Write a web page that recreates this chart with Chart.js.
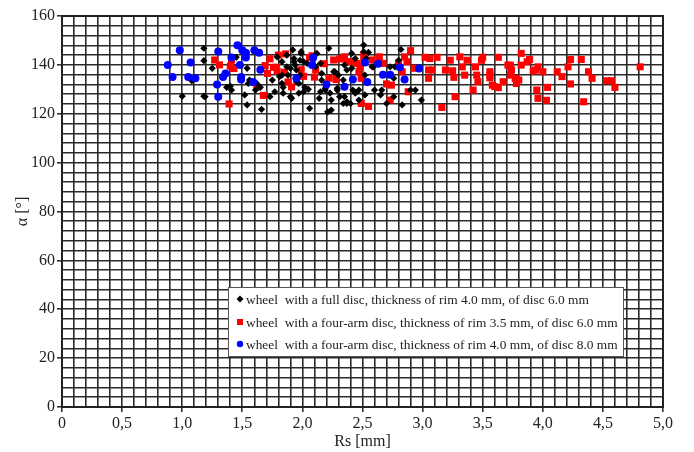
<!DOCTYPE html>
<html>
<head>
<meta charset="utf-8">
<title>Rs vs alpha</title>
<script src="https://cdn.jsdelivr.net/npm/chart.js@4.4.0/dist/chart.umd.min.js"></script>
<style>
  html, body { margin: 0; padding: 0; background: #fff; }
  #wrap { width: 694px; height: 452px; }
</style>
</head>
<body>
<div id="wrap"><canvas id="rsChart" width="694" height="452"></canvas></div>
<script>
// tick labels (x uses comma decimals like the original)
const xTickLabels = ["0", "0,5", "1,0", "1,5", "2,0", "2,5", "3,0", "3,5", "4,0", "4,5", "5,0"];
const yTickLabels = ["0", "20", "40", "60", "80", "100", "120", "140", "160"];

const seriesLabels = [
  "wheel  with a full disc, thickness of rim 4.0 mm, of disc 6.0 mm",
  "wheel  with a four-arm disc, thickness of rim 3.5 mm, of disc 6.0 mm",
  "wheel  with a four-arm disc, thickness of rim 4.0 mm, of disc 8.0 mm"
];

// [Rs mm, alpha deg]
const fullDisc = [
  [1.00,127.2],[1.08,133.5],[1.18,146.8],[1.18,141.7],[1.18,127.2],[1.19,127],[1.25,138.6],[1.37,130.8],
  [1.40,131.3],[1.41,129.7],[1.45,143.1],[1.54,123.6],[1.52,127.7],[1.54,138.6],[1.55,132.4],[1.56,133.8],
  [1.66,121.8],[1.62,132.4],[1.65,130.8],[1.73,127],[1.75,133.8],[1.79,143.3],[1.81,135.2],[1.83,132.4],
  [1.84,130.8],[1.87,139.2],[1.88,135.8],[1.90,127],[1.92,146.1],[1.93,142.6],[1.94,139.9],[1.95,137.9],
  [1.97,132.4],[1.97,128.4],[1.99,144.7],[2.01,141.3],[2.02,130.8],[2.05,130],[2.06,122.2],[2.11,139.2],
  [2.12,144.7],[2.15,140.6],[2.14,126.3],[2.16,133.8],[2.19,129.7],[2.22,146.8],[2.24,121.5],[2.23,128.4],
  [2.27,137.2],[2.29,130.4],[2.31,127],[2.37,137.9],[2.37,124.2],
  [1.99,145.4],[1.87,144],[1.83,141.3],[1.93,141.3],[1.90,138.6],[1.98,141.9],[1.83,135.8],[1.98,135.8],
  [1.95,133.1],[1.77,129],[1.91,126.3],[1.84,128.4],[1.61,129.7],[2.01,129],[2.04,140.6],[2.16,136.5],
  [2.15,129],[2.19,130.4],[2.24,125.6],[2.21,120.8],[2.26,137.2],[2.30,135.8],[2.29,129.7],[2.34,124.2],
  [2.35,127],[2.40,124.2],[2.35,139.9],[2.41,144.7],[2.44,142.6],[2.47,129.7],[2.52,127.7],[2.51,148.1],
  [2.55,145.1],[2.34,133.8],[2.37,124.9],[2.44,128.4],[2.47,125.6],[2.42,129.7],[2.41,138.6],[2.51,145.4],
  [2.53,142.6],[2.58,139.2],[2.65,127.7],[2.66,129.7],[2.73,139.2],[2.76,134.5],[2.82,146.3],[2.83,123.6],
  [2.90,129.7],[2.94,129.7],[2.99,125.6],[2.80,141.9],[2.60,129.7],[2.59,139.2],[2.52,135.8],[2.77,139.2],
  [2.76,127],[2.70,124.2]
];

const fourArm35 = [
  [1.27,142],[1.31,140],[1.39,124],[1.40,139.5],[1.43,138.5],[1.41,142],
  [1.73,142.5],[1.69,139.7],[1.71,136.5],[1.62,131],[1.675,127.5],[1.80,144],[1.78,139],[1.76,139],
  [1.79,137.5],[1.85,137],[1.86,144.5],[1.88,133],[1.91,131],[1.99,138],[2.01,135.3],[2.06,143],
  [2.08,143.7],[2.11,138],[2.10,135],[2.18,140.5],[2.22,134.5],[2.28,135],[2.28,134],[2.26,142],
  [2.31,142.4],[2.34,142.7],[2.35,143.3],[2.37,141.3],[2.41,141.3],[2.45,140.6],[2.48,139.2],[2.51,141.3],
  [2.51,144],[2.52,143.3],[2.47,137.2],[2.49,135.2],[2.49,134.5],[2.49,124.2],[2.55,123],[2.58,142],
  [2.64,143.3],[2.67,140.6],[2.70,132.2],[2.74,131.7],[2.73,125.6],[2.88,129],[2.80,140.6],[2.85,143.3],
  [2.87,141.3],[2.90,145.8],[2.83,137.2],[2.93,138.6],
  [3.02,143.1],[3.06,142.6],[3.12,143.1],[3.05,137.9],[3.08,137.9],[3.05,134.5],[3.16,122.6],[3.19,137.9],
  [3.23,141.9],[3.25,137.6],[3.26,134.9],[3.27,127],[3.31,143.3],[3.33,139.2],[3.35,135.8],[3.37,141.9],
  [3.44,139.2],[3.45,135.8],[3.46,133.1],[3.42,129.7],[3.49,141.9],[3.50,143.1],[3.56,137.2],[3.56,135.8],
  [3.56,134.7],[3.58,131.7],[3.60,131.1],[3.63,143.1],[3.63,130.7],[3.67,133.1],[3.71,139.9],[3.73,139.9],
  [3.74,137.9],[3.73,135.8],[3.77,134.5],[3.78,132.4],[3.80,133.8],[3.82,144.7],[3.82,139.9],[3.87,141.3],
  [3.89,142.2],[3.92,137.5],[3.94,137.9],[3.96,139.2],[4.00,137.2],[3.95,129.7],[3.96,126.3],[4.03,125.5],
  [4.04,130.8],[4.12,137.2],[4.16,135.2],[4.21,139.2],[4.23,142.2],[4.23,132.2],[4.32,142.2],[4.34,124.9],
  [4.38,137.2],[4.41,134.5],[4.53,133.5],[4.57,133.5],[4.60,130.8],[4.81,139.2]
];

const fourArm40 = [
  [0.88,140],[0.92,135],[0.98,146],[1.07,141],[1.05,135],[1.11,134.5],[1.30,145.5],[1.41,143],
  [1.36,136.5],[1.34,135],[1.29,132],[1.30,127],[1.46,148],[1.50,146],[1.53,145],[1.53,143],
  [1.48,140],[1.49,135],[1.49,134],[1.60,146],[1.64,145],[1.65,138],[1.59,133],[1.95,134.5],
  [2.09,143],[2.08,140],[2.20,132],[2.35,131],[2.42,134],[2.52,141],[2.54,133],[2.63,140.5],
  [2.67,136],[2.73,136],[2.81,139],[2.85,134],[2.97,138.5]
];

const toPoints = arr => arr.map(p => ({ x: p[0], y: p[1] }));

// draws one legend marker
function drawMarker(ctx, style, color, x, y, r) {
  ctx.save();
  ctx.fillStyle = color;
  ctx.beginPath();
  if (style === "rectRot") {
    ctx.moveTo(x, y - r); ctx.lineTo(x + r, y); ctx.lineTo(x, y + r); ctx.lineTo(x - r, y);
    ctx.closePath();
  } else if (style === "rect") {
    ctx.rect(x - r, y - r, 2 * r, 2 * r);
  } else {
    ctx.arc(x, y, r, 0, Math.PI * 2);
  }
  ctx.fill();
  ctx.restore();
}

// frame round the plot area (top and right too)
const plotFrame = {
  id: "plotFrame",
  afterDatasetsDraw(chart) {
    const a = chart.chartArea, ctx = chart.ctx;
    ctx.save();
    ctx.strokeStyle = "#222";
    ctx.lineWidth = 2;
    ctx.strokeRect(a.left, a.top, a.right - a.left, a.bottom - a.top);
    ctx.restore();
  }
};

// legend box sitting inside the plot, lower right
const insideLegend = {
  id: "insideLegend",
  afterDraw(chart) {
    const ctx = chart.ctx;
    const bx = 228, by = 287, bw = 395, bh = 69;
    ctx.save();
    ctx.fillStyle = "#fff";
    ctx.fillRect(bx, by, bw, bh);
    ctx.strokeStyle = "#555";
    ctx.lineWidth = 1;
    ctx.strokeRect(bx + 0.5, by + 0.5, bw, bh);
    ctx.font = "13.4px 'Liberation Serif', 'Times New Roman', serif";
    ctx.textBaseline = "middle";
    const rows = [299, 322, 344];
    const sizes = { rectRot: 3.5, rect: 3, circle: 3.2 };
    chart.data.datasets.forEach((ds, i) => {
      drawMarker(ctx, ds.pointStyle, ds.backgroundColor, 240, rows[i], sizes[ds.pointStyle]);
      ctx.fillStyle = "#222";
      ctx.fillText(ds.label, 246, rows[i] + 1);
    });
    ctx.restore();
  }
};

const isMultiple = (v, step) => Math.abs(v / step - Math.round(v / step)) < 1e-6;
const axisFont = { family: "'Liberation Serif', 'Times New Roman', serif", size: 16 };

const ctx = document.getElementById("rsChart").getContext("2d");
new Chart(ctx, {
  type: "scatter",
  data: {
    datasets: [
      {
        label: seriesLabels[0],
        data: toPoints(fullDisc),
        pointStyle: "rectRot",
        pointRadius: 3.6,
        backgroundColor: "#000",
        borderColor: "#000",
        borderWidth: 0,
        order: 2
      },
      {
        label: seriesLabels[1],
        data: toPoints(fourArm35),
        pointStyle: "rect",
        pointRadius: 5,
        backgroundColor: "#ff0000",
        borderColor: "#ff0000",
        borderWidth: 0,
        order: 3
      },
      {
        label: seriesLabels[2],
        data: toPoints(fourArm40),
        pointStyle: "circle",
        pointRadius: 4,
        backgroundColor: "#0000ff",
        borderColor: "#0000ff",
        borderWidth: 0,
        order: 1
      }
    ]
  },
  options: {
    responsive: false,
    animation: false,
    devicePixelRatio: 1,
    layout: { padding: { top: 16, right: 31, left: 0, bottom: 0 } },
    plugins: {
      legend: { display: false },
      tooltip: { enabled: false }
    },
    scales: {
      x: {
        type: "linear",
        min: 0,
        max: 5,
        afterFit: s => { s.height = 45; },
        ticks: {
          stepSize: 0.1,
          autoSkip: false,
          maxRotation: 0,
          padding: 2,
          color: "#222",
          font: axisFont,
          callback: v => isMultiple(v, 0.5) ? xTickLabels[Math.round(v * 2)] : ""
        },
        grid: {
          color: "#2a2a2a",
          lineWidth: 1.6,
          tickLength: 5,
          tickColor: c => isMultiple(c.tick.value, 0.5) ? "#333" : "rgba(0,0,0,0)"
        },
        border: { display: true, color: "#222", width: 2 },
        title: { display: true, text: "Rs [mm]", color: "#222", font: axisFont, padding: { top: 0, bottom: 1 } }
      },
      y: {
        type: "linear",
        min: 0,
        max: 160,
        afterFit: s => { s.width = 62; },
        ticks: {
          stepSize: 4,
          autoSkip: false,
          padding: 2,
          color: "#222",
          font: axisFont,
          callback: v => isMultiple(v, 20) ? yTickLabels[Math.round(v / 20)] : ""
        },
        grid: {
          color: "#2a2a2a",
          lineWidth: 1.6,
          tickLength: 5,
          tickColor: c => isMultiple(c.tick.value, 20) ? "#333" : "rgba(0,0,0,0)"
        },
        border: { display: true, color: "#222", width: 2 },
        title: { display: true, text: "α [°]", color: "#222", font: axisFont, padding: { top: 13, bottom: 0 } }
      }
    }
  },
  plugins: [plotFrame, insideLegend]
});
</script>
</body>
</html>
